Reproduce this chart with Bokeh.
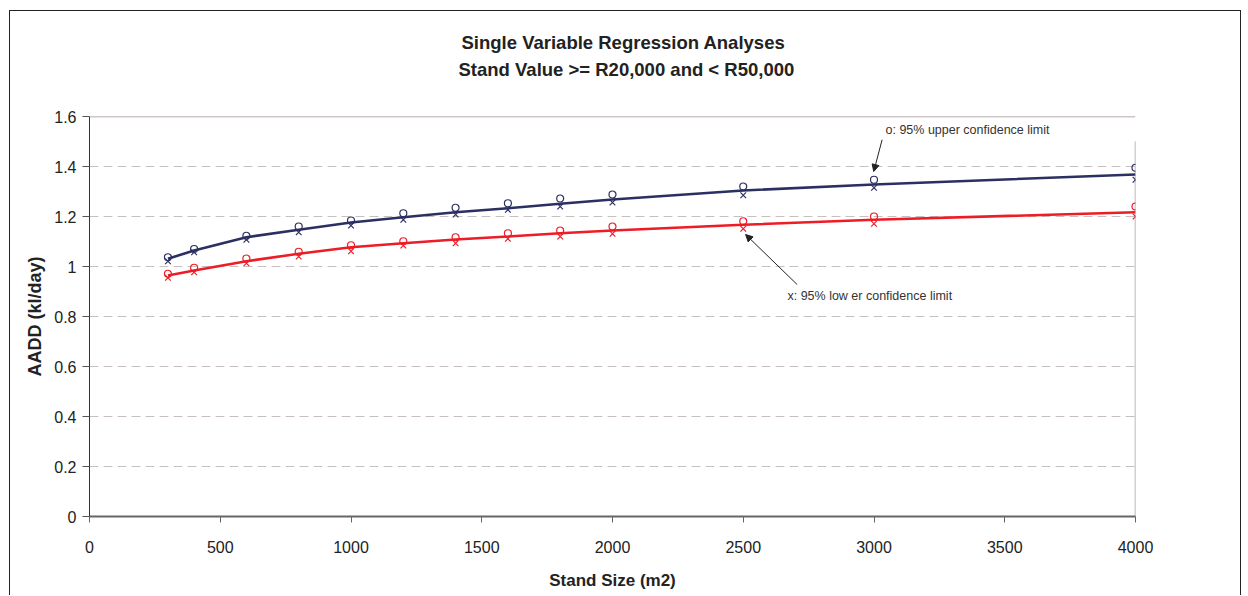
from bokeh.plotting import figure
from bokeh.models import Range1d, FixedTicker, Label, Arrow, NormalHead, Span, Title
from bokeh.embed import file_html
from bokeh.resources import INLINE

# ---- data ----
stand_size = [300, 400, 600, 800, 1000, 1200, 1400, 1600, 1800, 2000, 2500, 3000, 4000]
upper_fit = [1.031, 1.064, 1.117, 1.147, 1.176, 1.197, 1.217, 1.233, 1.251, 1.268, 1.304, 1.328, 1.368]
upper_o = [1.037, 1.070, 1.123, 1.160, 1.184, 1.213, 1.235, 1.253, 1.272, 1.288, 1.320, 1.347, 1.395]
upper_x = [1.021, 1.057, 1.107, 1.137, 1.164, 1.187, 1.208, 1.227, 1.240, 1.256, 1.285, 1.315, 1.347]
lower_fit = [0.964, 0.984, 1.021, 1.051, 1.077, 1.093, 1.108, 1.120, 1.133, 1.144, 1.167, 1.187, 1.217]
lower_o = [0.971, 0.995, 1.032, 1.059, 1.085, 1.101, 1.117, 1.133, 1.144, 1.160, 1.181, 1.200, 1.240]
lower_x = [0.955, 0.977, 1.013, 1.040, 1.061, 1.084, 1.093, 1.111, 1.120, 1.131, 1.151, 1.171, 1.200]

x_ticks = [0, 500, 1000, 1500, 2000, 2500, 3000, 3500, 4000]
y_ticks = [0, 0.2, 0.4, 0.6, 0.8, 1.0, 1.2, 1.4, 1.6]
y_tick_labels = ["0", "0.2", "0.4", "0.6", "0.8", "1", "1.2", "1.4", "1.6"]

title_lines = ["Single Variable  Regression Analyses", "Stand Value >= R20,000 and < R50,000"]
x_title = "Stand Size (m2)"
y_title = "AADD (kl/day)"
upper_note = "o: 95% upper confidence limit"
lower_note = "x: 95% low er confidence limit"

NAVY = "#2c2f62"
RED = "#ee1c25"
FONT = "Liberation Sans"

p = figure(width=1232, height=585, output_backend="svg", toolbar_location=None,
           x_range=Range1d(0, 4000), y_range=Range1d(0, 1.6),
           min_border_left=79, min_border_right=107, min_border_top=105, min_border_bottom=80)
p.margin = (10, 0, 0, 9)
p.styles = {"border-top": "1px solid #222", "border-left": "1px solid #222", "border-right": "1px solid #222"}
p.outline_line_color = None
p.background_fill_color = "white"
p.border_fill_color = "white"

# title: a blank spacer panel next to the plot, then line 2, then line 1
p.add_layout(Title(text=" ", text_font_size="2px", standoff=30), "above")
p.add_layout(Title(text=title_lines[1], align="left", offset=369, text_font=FONT, text_font_style="bold",
                   text_font_size="18.5px", text_color="#222222", standoff=6), "above")
p.add_layout(Title(text=title_lines[0], align="left", offset=372, text_font=FONT, text_font_style="bold",
                   text_font_size="18.5px", text_color="#222222", standoff=2), "above")

# axes
p.xaxis.ticker = FixedTicker(ticks=x_ticks)
p.yaxis.ticker = FixedTicker(ticks=y_ticks)
p.yaxis.major_label_overrides = {t: l for t, l in zip(y_ticks, y_tick_labels)}
p.xaxis.minor_tick_line_color = None
p.yaxis.minor_tick_line_color = None
p.xaxis.axis_line_color = "#666666"
p.xaxis.axis_line_width = 2
p.yaxis.axis_line_color = "#333333"
p.yaxis.axis_line_width = 1
p.xaxis.major_tick_line_color = "#666666"
p.yaxis.major_tick_line_color = "#555555"
p.xaxis.major_tick_in = 0
p.xaxis.major_tick_out = 6
p.yaxis.major_tick_in = 0
p.yaxis.major_tick_out = 7
for ax in (p.xaxis, p.yaxis):
    ax.major_label_text_font = FONT
    ax.major_label_text_font_size = "16px"
    ax.major_label_text_color = "#222222"
    ax.axis_label_text_font = FONT
    ax.axis_label_text_font_style = "bold"
    ax.axis_label_text_color = "#222222"
p.xaxis.axis_label_text_font_size = "17px"
p.yaxis.axis_label_text_font_size = "18px"
p.xaxis.major_label_standoff = 18
p.yaxis.major_label_standoff = 6
p.xaxis.axis_label = x_title
p.yaxis.axis_label = y_title
p.xaxis.axis_label_standoff = 15
p.yaxis.axis_label_standoff = 6

# grid
p.xgrid.grid_line_color = None
p.ygrid.ticker = FixedTicker(ticks=y_ticks)
p.ygrid.grid_line_color = "#c8c0c0"
p.ygrid.grid_line_dash = "9 5"
p.ygrid.grid_line_width = 1

# top line of plot area and right-hand vertical line
p.add_layout(Span(location=1.6, dimension="width", line_color="#9e8e8e", line_width=1.5))
p.segment(x0=[4000], y0=[0], x1=[4000], y1=[1.5], line_color="#a8a0a0", line_width=1.5)

# fitted lines
p.line(stand_size, upper_fit, line_color=NAVY, line_width=2.6)
p.line(stand_size, lower_fit, line_color=RED, line_width=2.6)

# confidence limit markers
p.scatter(stand_size, upper_o, marker="circle", size=7, fill_color=None, line_color=NAVY, line_width=1.2)
p.scatter(stand_size, upper_x, marker="x", size=8, line_color=NAVY, line_width=1.2)
p.scatter(stand_size, lower_o, marker="circle", size=7, fill_color=None, line_color=RED, line_width=1.2)
p.scatter(stand_size, lower_x, marker="x", size=8, line_color=RED, line_width=1.2)

# annotations
p.add_layout(Label(x=3044, y=1.548, text=upper_note, text_align="left", text_baseline="middle",
                   text_font=FONT, text_font_size="12.5px", text_color="#333333"))
p.add_layout(Label(x=2669, y=0.884, text=lower_note, text_align="left", text_baseline="middle",
                   text_font=FONT, text_font_size="12.5px", text_color="#333333"))
p.add_layout(Arrow(end=NormalHead(size=7, fill_color="#222222", line_color="#222222"),
                   x_start=3031, y_start=1.507, x_end=2999, y_end=1.38,
                   line_color="#222222", line_width=1))
p.add_layout(Arrow(end=NormalHead(size=7, fill_color="#222222", line_color="#222222"),
                   x_start=2706, y_start=0.928, x_end=2509, y_end=1.128,
                   line_color="#222222", line_width=1))

open("out.html", "w").write(file_html(p, INLINE))
